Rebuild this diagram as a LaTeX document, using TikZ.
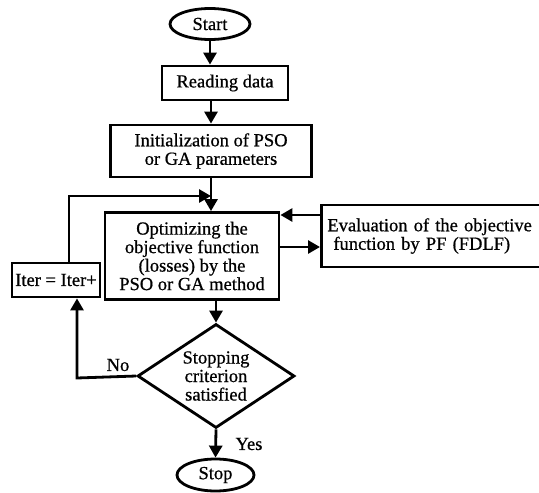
\documentclass[tikz,border=0pt]{standalone}
\usepackage{fontspec}
\setmainfont{Liberation Serif}[FakeBold=0.7]
\usetikzlibrary{shapes.geometric,arrows.meta}
\begin{document}
\begin{tikzpicture}[x=1pt,y=-1pt,line width=2.8pt,
	every node/.style={font=\fontsize{18.5}{18.5}\selectfont},
	box/.style={draw,rectangle,align=center,inner sep=2pt},
	term/.style={draw,ellipse,inner sep=0pt},
	test/.style={draw,diamond,aspect=1.5,inner sep=0pt,align=center,minimum width=157,minimum height=104},
	flow/.style={-{Triangle[length=12pt,width=13pt]}}]
	\useasboundingbox (0,0) rectangle (539,493);
	\clip (0,0) rectangle (539,493);
	\node[term,minimum width=80,minimum height=31] (start) at (210,24) {Start};
	\node[box,minimum width=126,minimum height=34] (read) at (225,83) {Reading data};
	\node[box,minimum width=201,minimum height=52] (init) at (211,151) {Initialization of PSO\\or GA parameters};
	\node[box,minimum width=174,minimum height=87] (opt) at (192,256) {Optimizing the\\objective function\\(losses) by the\\PSO or GA method};
	\node[box,anchor=west,align=left,inner xsep=6pt,text width=222pt,minimum height=62] (eval) at (320,236) {Evaluation of the objective\\\hspace*{6pt}function by PF (FDLF)};
	\node[box,inner xsep=1pt,minimum width=88,minimum height=34] (iter) at (56,280) {Iter = Iter+};
	\node[test] (check) at (216,376) {Stopping\\criterion\\satisfied};
	\node[term,minimum width=77,minimum height=32] (stop) at (215.5,475) {Stop};
	\node (no) at (118,365) {No};
	\node (yes) at (249,444) {Yes};
	\coordinate (join) at (211,196);
	\coordinate (loop) at (69,196);
	\coordinate (back) at (77,378);
	\draw[flow] (start.south) -- (start.south |- read.north);
	\draw[flow] (read.south -| init) -- (init.north);
	\draw[flow] (init.south) -- (init.south |- opt.north);
	\draw[flow] (opt.south -| check) -- (check.north);
	\draw[flow] (check.south) -- (stop.north);
	\draw[flow] ([yshift=21pt]eval.west) -- ([yshift=21pt]eval.west -| opt.east);
	\draw[flow] ([yshift=-11pt]eval.west -| opt.east) -- ([yshift=-11pt]eval.west);
	\draw[flow] (iter.north -| loop) -- (loop) -- (join);
	\draw[flow] (check.west) -- (back) -- (back |- iter.south);
\end{tikzpicture}
\end{document}
